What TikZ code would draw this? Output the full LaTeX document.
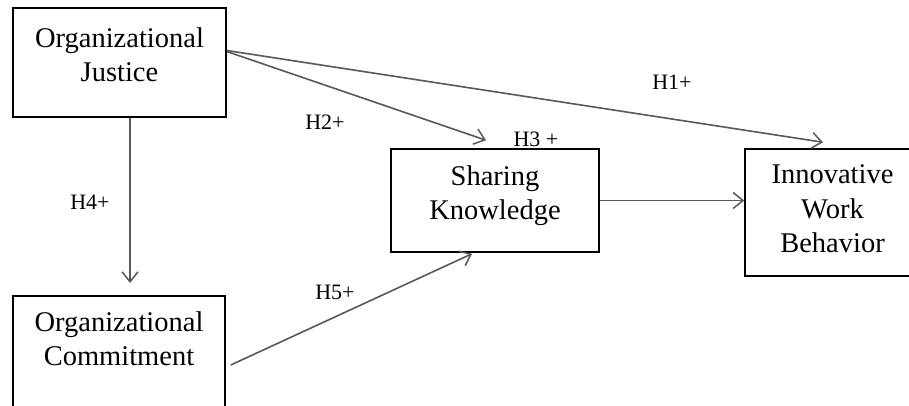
\documentclass[tikz,border=0pt]{standalone}
\usepackage{fontspec}
\setmainfont{Liberation Serif}
\usetikzlibrary{arrows.meta}
\tikzset{
  box/.style={draw=black, line width=1.5pt, rectangle, align=center, inner sep=0pt,
    font=\fontsize{28.5}{34.5}\selectfont},
  arr/.style={draw=black!65, line width=1.6pt, -{Straight Barb[length=10pt,width=16pt,line width=1.5pt]}},
  lab/.style={font=\fontsize{22}{26}\selectfont, inner sep=0pt}
}
\begin{document}
\begin{tikzpicture}[x=1pt,y=-1pt]
\useasboundingbox (0,0) rectangle (909,406);
\clip (0,0) rectangle (909,406);
\fill[white] (0,0) rectangle (909,406);
% boxes
\node[box, minimum width=213pt, minimum height=109pt] (OJ) at (119.5,62.5) {Organizational\\Justice\rule[-16pt]{0pt}{0pt}};
\node[box, minimum width=212pt, anchor=north, inner ysep=15.5pt] (OC) at (119,295) {Organizational\\Commitment\\[60pt]\mbox{}};
\node[box, minimum width=208pt, minimum height=103pt] (SK) at (495,200.5) {Sharing\\Knowledge\rule[-16pt]{0pt}{0pt}};
\node[box, minimum width=175pt, minimum height=127pt] (IWB) at (832.5,212.5) {Innovative\\Work\\Behavior\rule[-7pt]{0pt}{0pt}};
% connectors
\draw[arr] ([yshift=12pt]OJ.east) -- ([xshift=-9.5pt,yshift=6pt]IWB.north);
\draw[arr] ([yshift=11pt]OJ.east) -- ([xshift=-9pt,yshift=8pt]SK.north);
\draw[arr] ([xshift=10.5pt]OJ.south) -- ([xshift=11pt,yshift=12pt]OC.north);
\draw[arr] ([xshift=5pt,yshift=-70pt]OC.north east) -- ([xshift=-23pt,yshift=-1pt]SK.south);
\draw[arr] (SK.east) -- (SK.east -| IWB.west);
% labels
\node[lab] (h1) at (672,82) {H1+};
\node[lab] (h2) at (325,122) {H2+};
\node[lab] (h3) at (536,139) {H3 +};
\node[lab] (h4) at (90,202) {H4+};
\node[lab] (h5) at (335,292) {H5+};
\end{tikzpicture}
\end{document}
